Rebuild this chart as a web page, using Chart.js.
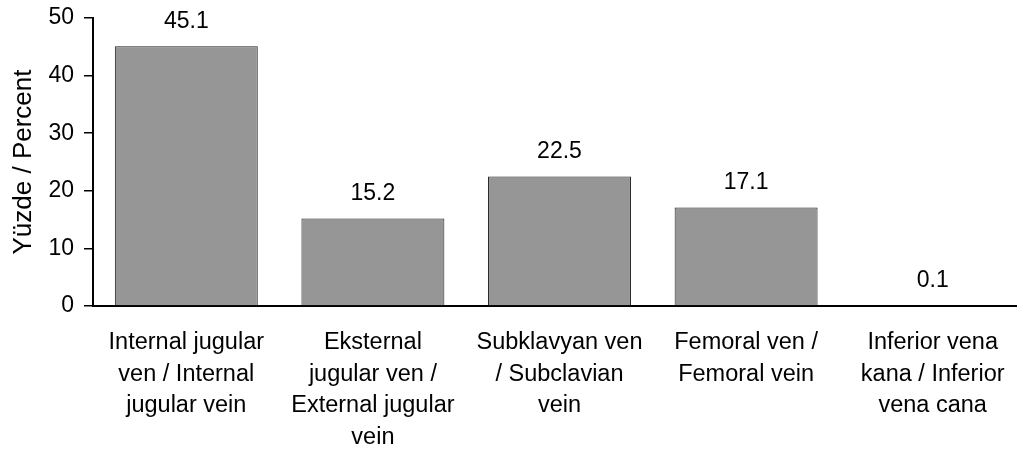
<!DOCTYPE html>
<html>
<head>
<meta charset="utf-8">
<script src="https://cdn.jsdelivr.net/npm/chart.js@4/dist/chart.umd.min.js"></script>
<style>
  html, body { margin: 0; padding: 0; background: #fff; overflow: hidden; }
  #wrap { width: 1026px; height: 452px; position: relative; }
</style>
</head>
<body>
<div id="wrap"><canvas id="veinChart"></canvas></div>
<script>
// === chart data ===
const CATEGORIES = [
  ["Internal jugular", "ven / Internal", "jugular vein"],
  ["Eksternal", "jugular ven /", "External jugular", "vein"],
  ["Subklavyan ven", "/ Subclavian", "vein"],
  ["Femoral ven /", "Femoral vein"],
  ["Inferior vena", "kana / Inferior", "vena cana"]
];
const PERCENTS = [45.1, 15.2, 22.5, 17.1, 0.1];
const Y_MIN = 0;
const Y_MAX = 50;
const Y_STEP = 10;
const Y_TITLE = "Yüzde / Percent";

const FONT = "'Liberation Sans', Arial, sans-serif";

// value labels above each bar
const valueLabels = {
  id: "valueLabels",
  afterDatasetsDraw(chart) {
    const ctx = chart.ctx;
    const meta = chart.getDatasetMeta(0);
    ctx.save();
    ctx.font = "23px " + FONT;
    ctx.fillStyle = "#000";
    ctx.textAlign = "center";
    ctx.textBaseline = "alphabetic";
    meta.data.forEach((bar, i) => {
      ctx.fillText(PERCENTS[i].toFixed(1), bar.x, bar.y - 18.5);
    });
    ctx.restore();
  }
};

Chart.defaults.color = "#000";
Chart.defaults.font.family = FONT;

const ctx = document.getElementById("veinChart").getContext("2d");
new Chart(ctx, {
  type: "bar",
  data: {
    labels: CATEGORIES,
    datasets: [
      {
        data: PERCENTS,
        backgroundColor: "#969696",
        borderColor: "#1e1e1e",
        borderWidth: 1,
        borderSkipped: "bottom",
        barPercentage: 0.766,
        categoryPercentage: 1
      }
    ]
  },
  options: {
    responsive: true,
    maintainAspectRatio: false,
    animation: false,
    layout: { padding: { top: 18, right: 0, bottom: 0, left: 0 } },
    plugins: {
      legend: { display: false },
      tooltip: { enabled: false }
    },
    scales: {
      x: {
        grid: { display: false, drawTicks: false },
        border: { display: true, color: "#000", width: 2 },
        ticks: {
          font: { size: 23.5, lineHeight: 1.34 },
          padding: 21,
          maxRotation: 0,
          autoSkip: false
        },
        afterFit(scale) {
          scale.height = 146;
        }
      },
      y: {
        min: Y_MIN,
        max: Y_MAX,
        ticks: {
          stepSize: Y_STEP,
          font: { size: 23 },
          padding: 10
        },
        grid: {
          drawOnChartArea: false,
          drawTicks: true,
          tickLength: 9,
          color: "#000",
          lineWidth: 1.5
        },
        border: { display: true, color: "#000", width: 2 },
        title: {
          display: true,
          text: Y_TITLE,
          font: { size: 26 },
          padding: { top: 8, bottom: 0 }
        },
        afterFit(scale) {
          scale.width = 93;
          // let layout.padding alone fix the plot top
          scale.paddingTop = 0;
          scale.paddingBottom = 0;
        }
      }
    }
  },
  plugins: [valueLabels]
});
</script>
</body>
</html>
